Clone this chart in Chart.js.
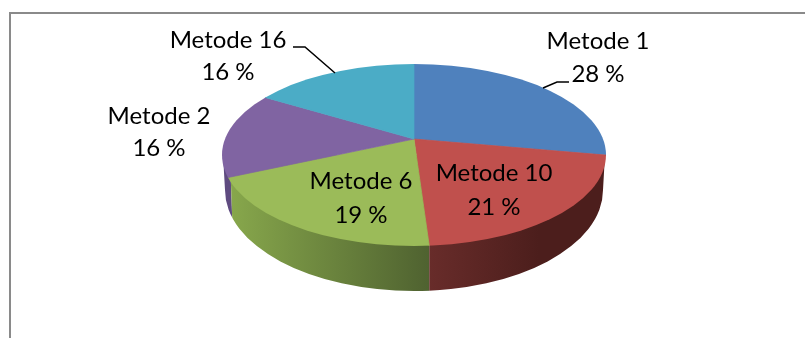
<!DOCTYPE html>
<html>
<head>
<meta charset="utf-8">
<title>Metode</title>
<script src="https://cdn.jsdelivr.net/npm/chart.js@4/dist/chart.umd.js"></script>
<style>
  html, body { margin: 0; padding: 0; background: #fff; }
  #wrap { position: relative; width: 805px; height: 338px; overflow: hidden; }
  #frame { position: absolute; left: 9px; top: 12px; right: -4px; bottom: -4px; border: 2px solid #8a8a8a; }
  canvas { position: absolute; left: 0; top: 0; }
</style>
</head>
<body>
<div id="wrap">
  <div id="frame"></div>
  <canvas id="pie" width="805" height="338"></canvas>
</div>
<script>
const categories = ['Metode 1', 'Metode 10', 'Metode 6', 'Metode 2', 'Metode 16'];
const shares = [28, 21, 19, 16, 16];
const sliceColors = ['#4f81bd', '#c0504d', '#9bbb59', '#8064a2', '#4bacc6'];

// tilted disc geometry: the wedges meet at the apex, which sits behind the rim centre
const apex = { x: 414, y: 139 };
const tilt = 0.44;
const rim = { x: 414, y: 155, rx: 192, ry: 91 };
const base = { x: 414, y: 190, rx: 189, ry: 101 };

// label centres (name line, value line share x)
const labelSpots = [
  { x: 598, y1: 41, y2: 74 },
  { x: 494, y1: 173, y2: 207 },
  { x: 361, y1: 181, y2: 215 },
  { x: 159, y1: 116, y2: 148 },
  { x: 228, y1: 40, y2: 72 },
];
const leaders = [
  [[569, 82], [557, 82], [543, 88]],
  [[293, 47], [305, 47], [335, 73]],
];

// where a wedge edge at this angle meets the rim ellipse
function rimX(angle) {
  const dx = Math.cos(angle);
  const dy = tilt * Math.sin(angle);
  const ox = apex.x - rim.x;
  const oy = apex.y - rim.y;
  const a = (dx * dx) / (rim.rx * rim.rx) + (dy * dy) / (rim.ry * rim.ry);
  const b = 2 * ((ox * dx) / (rim.rx * rim.rx) + (oy * dy) / (rim.ry * rim.ry));
  const c = (ox * ox) / (rim.rx * rim.rx) + (oy * oy) / (rim.ry * rim.ry) - 1;
  const t = (-b + Math.sqrt(b * b - 4 * a * c)) / (2 * a);
  return apex.x + t * dx;
}

function sideGradient(ctx, x0, x1, stops) {
  const g = ctx.createLinearGradient(x0, 0, x1, 0);
  stops.forEach((s, i) => g.addColorStop(i / (stops.length - 1), s));
  return g;
}

function sidePath(ctx) {
  ctx.beginPath();
  ctx.ellipse(base.x, base.y, base.rx, base.ry, 0, 0, Math.PI);
  ctx.lineTo(rim.x - rim.rx + 1, rim.y);
  ctx.lineTo(rim.x + rim.rx - 1, rim.y);
  ctx.closePath();
}

const disc3d = {
  id: 'disc3d',
  beforeDatasetsDraw(chart) {
    const { ctx } = chart;
    const arcs = chart.getDatasetMeta(0).data;
    const redEdge = rimX(arcs[1].endAngle);
    const purpleEdge = rimX(arcs[2].endAngle);

    // wall of the disc, only the three front slices show it
    const walls = [
      { poly: [[purpleEdge, 100], [purpleEdge + 5, 240], [0, 240], [0, 100]], fill: '#5f4b80' },
      {
        poly: [[purpleEdge, 100], [purpleEdge + 5, 240], [purpleEdge + 5, 338], [redEdge, 338], [redEdge, 100]],
        fill: sideGradient(ctx, purpleEdge, redEdge, ['#88a84c', '#4f6230']),
      },
      {
        poly: [[redEdge, 100], [redEdge, 338], [805, 338], [805, 100]],
        fill: sideGradient(ctx, redEdge, redEdge + 110, ['#682c2a', '#4c1e1c']),
      },
    ];
    walls.forEach((w) => {
      ctx.save();
      ctx.beginPath();
      w.poly.forEach(([x, y], i) => (i ? ctx.lineTo(x, y) : ctx.moveTo(x, y)));
      ctx.closePath();
      ctx.clip();
      sidePath(ctx);
      ctx.fillStyle = w.fill;
      ctx.fill();
      ctx.restore();
    });

    // the wedges are far larger than the rim and get cut by it
    ctx.save();
    ctx.beginPath();
    ctx.ellipse(rim.x, rim.y, rim.rx, rim.ry, 0, 0, Math.PI * 2);
    ctx.clip();
    ctx.translate(apex.x, apex.y);
    ctx.scale(1, tilt);
    ctx.translate(-arcs[0].x, -arcs[0].y);
  },
  afterDatasetsDraw(chart) {
    const { ctx } = chart;
    ctx.restore();

    ctx.strokeStyle = '#000';
    ctx.lineWidth = 1.5;
    leaders.forEach((pts) => {
      ctx.beginPath();
      pts.forEach(([x, y], i) => (i ? ctx.lineTo(x, y) : ctx.moveTo(x, y)));
      ctx.stroke();
    });

    ctx.fillStyle = '#000';
    ctx.font = '24px Lato';
    ctx.textAlign = 'center';
    ctx.textBaseline = 'middle';
    categories.forEach((name, i) => {
      const spot = labelSpots[i];
      ctx.fillText(name, spot.x, spot.y1);
      ctx.fillText(shares[i] + ' %', spot.x, spot.y2);
    });
  },
};

new Chart(document.getElementById('pie'), {
  type: 'pie',
  data: {
    labels: categories,
    datasets: [{
      data: shares,
      backgroundColor: sliceColors,
      borderColor: sliceColors,
      borderWidth: 1,
      radius: 300,
      clip: false,
    }],
  },
  options: {
    responsive: false,
    animation: false,
    events: [],
    plugins: { legend: { display: false }, tooltip: { enabled: false } },
  },
  plugins: [disc3d],
});
</script>
</body>
</html>
